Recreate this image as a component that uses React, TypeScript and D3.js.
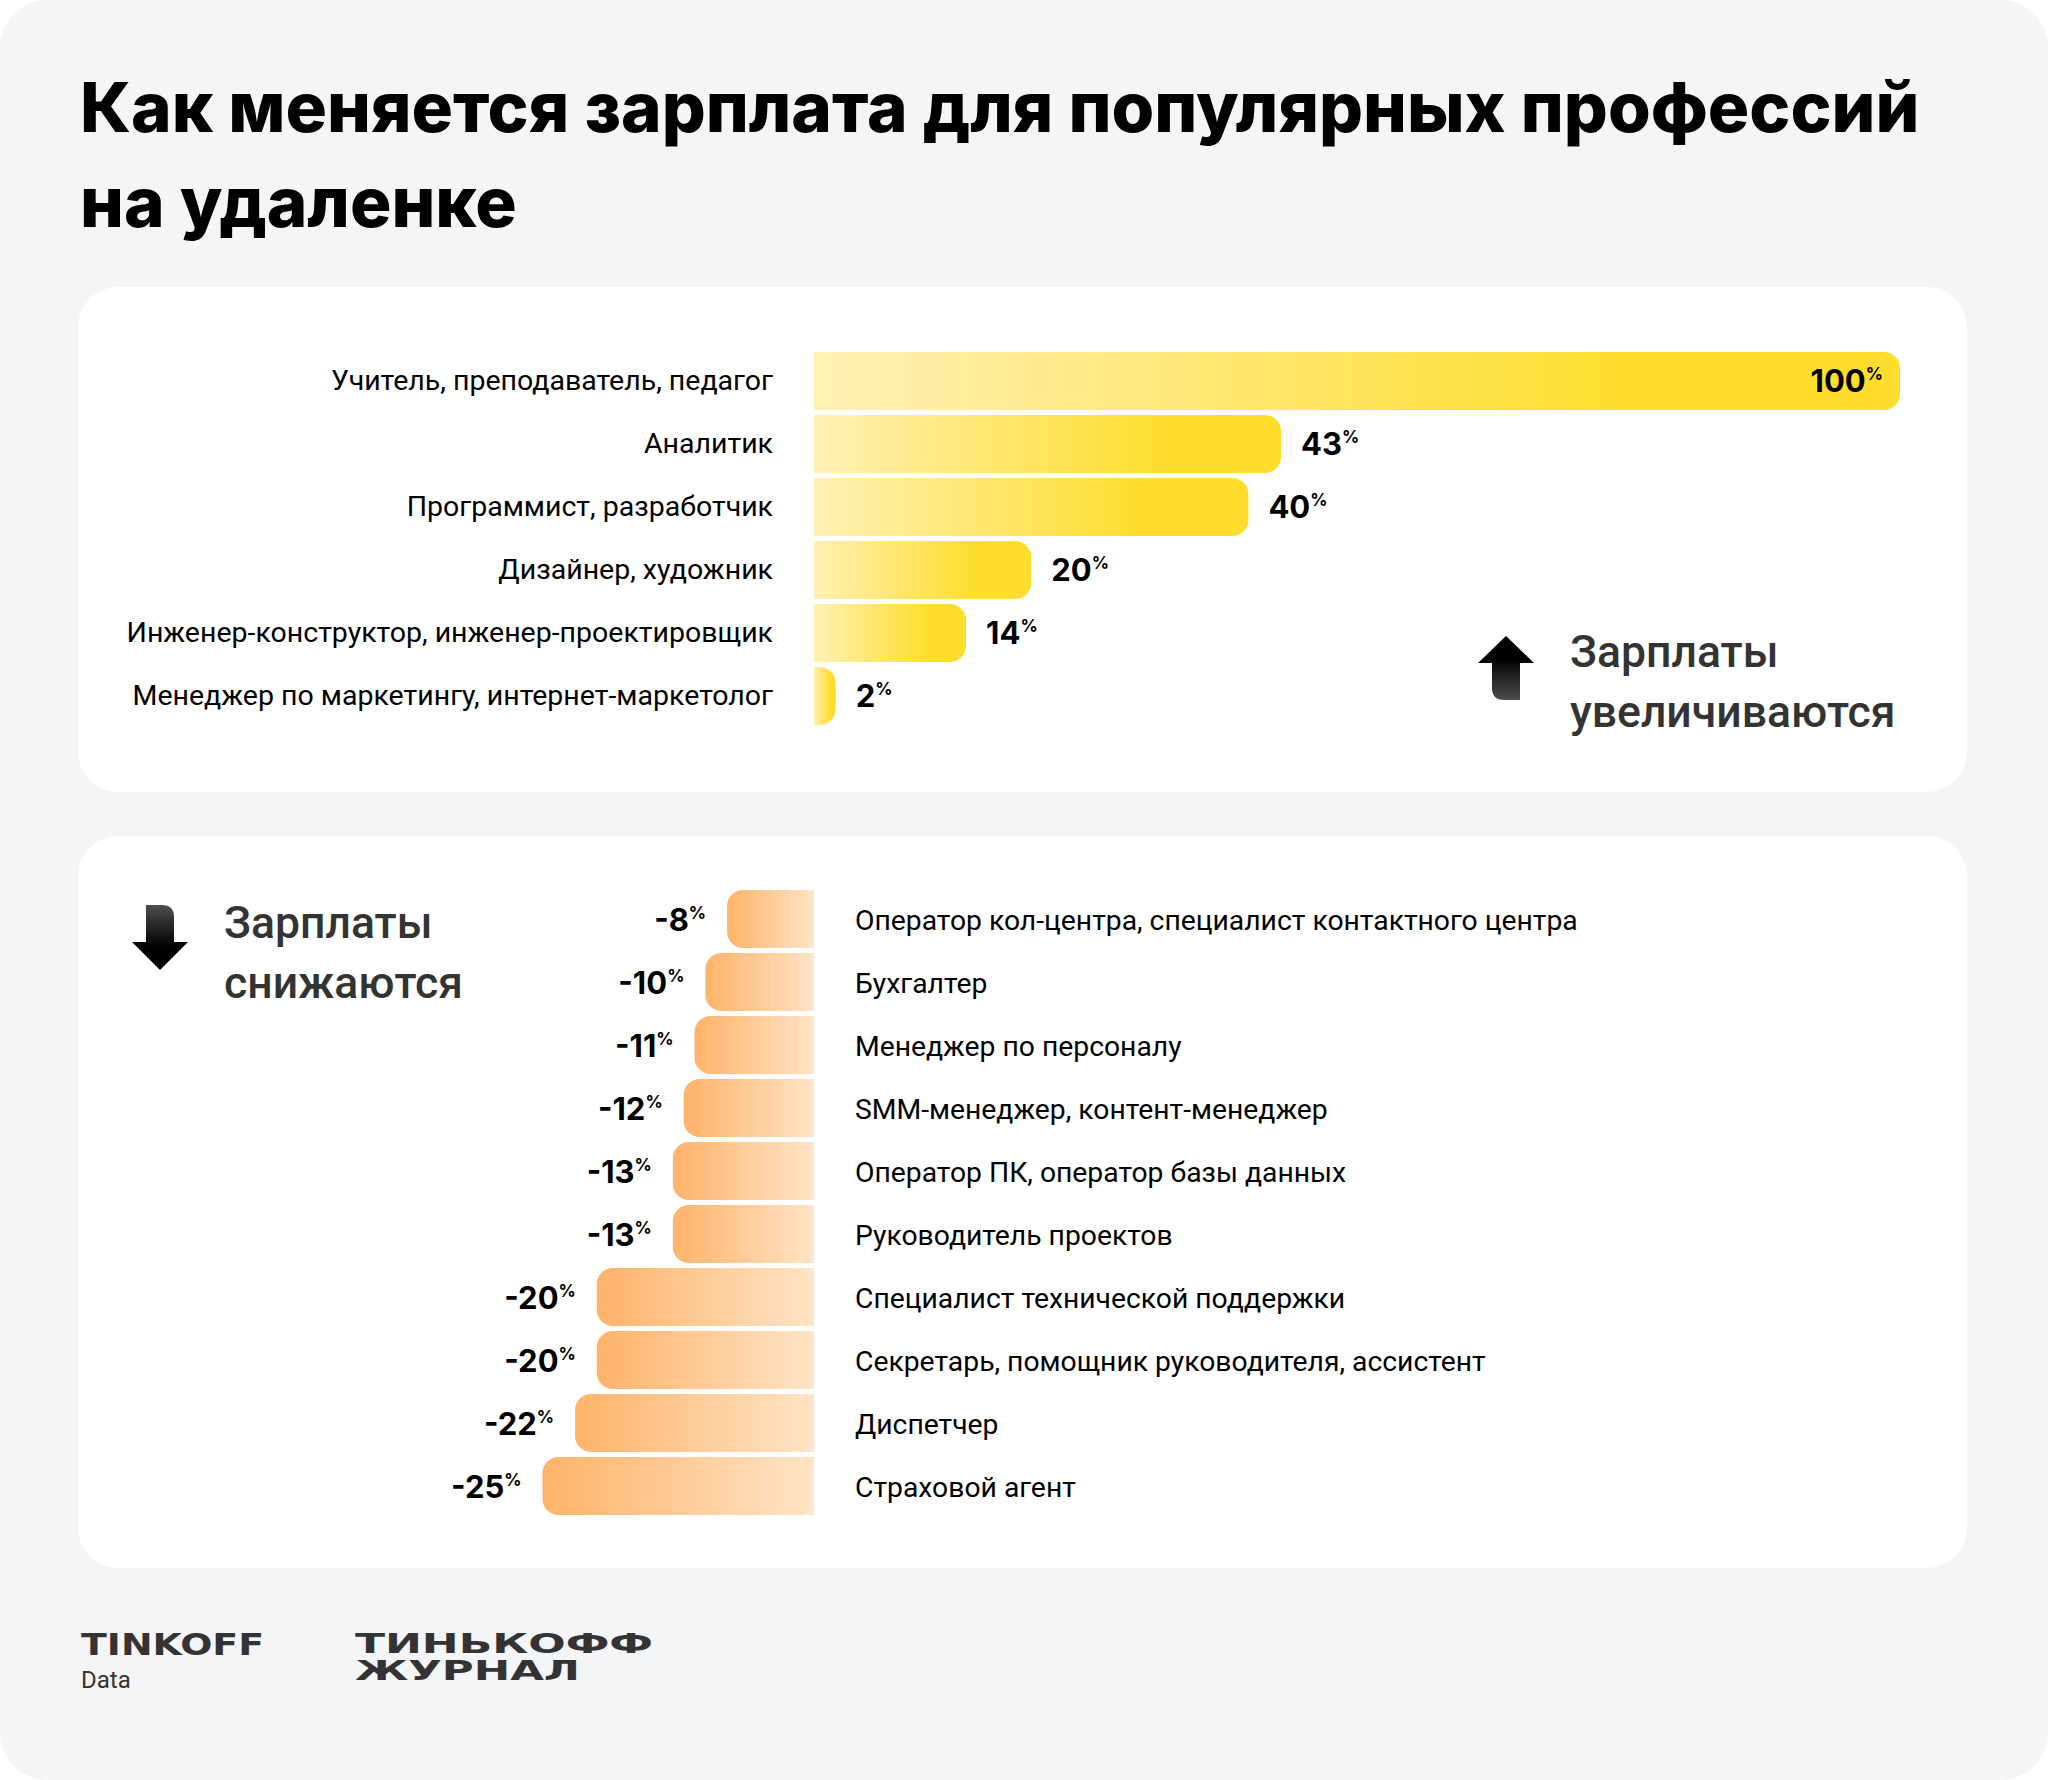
import React from "react";
import * as d3 from "d3";

const titleLines = ["Как меняется зарплата для популярных профессий", "на удаленке"];

const upCategories = [
  "Учитель, преподаватель, педагог",
  "Аналитик",
  "Программист, разработчик",
  "Дизайнер, художник",
  "Инженер-конструктор, инженер-проектировщик",
  "Менеджер по маркетингу, интернет-маркетолог",
];
const upValues = [100, 43, 40, 20, 14, 2];

const downCategories = [
  "Оператор кол-центра, специалист контактного центра",
  "Бухгалтер",
  "Менеджер по персоналу",
  "SMM-менеджер, контент-менеджер",
  "Оператор ПК, оператор базы данных",
  "Руководитель проектов",
  "Специалист технической поддержки",
  "Секретарь, помощник руководителя, ассистент",
  "Диспетчер",
  "Страховой агент",
];
const downValues = [-8, -10, -11, -12, -13, -13, -20, -20, -22, -25];

const upLegend = ["Зарплаты", "увеличиваются"];
const downLegend = ["Зарплаты", "снижаются"];

const W = 2048;
const H = 1780;
const X0 = 814;
const STEP = 63;
const GAP = 5;

const x = d3.scaleLinear().domain([0, 100]).range([0, 1086]);

const yUp = d3
  .scaleBand<string>()
  .domain(upCategories)
  .range([352, 352 + upCategories.length * STEP - GAP])
  .paddingInner(GAP / STEP)
  .paddingOuter(0);

const yDown = d3
  .scaleBand<string>()
  .domain(downCategories)
  .range([890, 890 + downCategories.length * STEP - GAP])
  .paddingInner(GAP / STEP)
  .paddingOuter(0);

function rightRounded(x0: number, x1: number, y0: number, y1: number, rr: number) {
  const r = Math.min(rr, x1 - x0, (y1 - y0) / 2);
  const p = d3.path();
  p.moveTo(x0, y0);
  p.lineTo(x1 - r, y0);
  p.arcTo(x1, y0, x1, y0 + r, r);
  p.lineTo(x1, y1 - r);
  p.arcTo(x1, y1, x1 - r, y1, r);
  p.lineTo(x0, y1);
  p.closePath();
  return p.toString();
}

function leftRounded(x0: number, x1: number, y0: number, y1: number, rr: number) {
  const r = Math.min(rr, x1 - x0, (y1 - y0) / 2);
  const p = d3.path();
  p.moveTo(x1, y0);
  p.lineTo(x0 + r, y0);
  p.arcTo(x0, y0, x0, y0 + r, r);
  p.lineTo(x0, y1 - r);
  p.arcTo(x0, y1, x0 + r, y1, r);
  p.lineTo(x1, y1);
  p.closePath();
  return p.toString();
}

const labelFont = "Roboto, 'Noto Sans', sans-serif";
const valueFont = "Inter, Roboto, sans-serif";

function ValueLabel({ x: tx, y, v, anchor }: { x: number; y: number; v: number; anchor: string }) {
  return (
    <text x={tx} y={y} textAnchor={anchor} fontFamily={valueFont} fontWeight={700} fontSize={31} fill="#000">
      <tspan>{String(v)}</tspan>
      <tspan fontSize={17} dy={-12}>%</tspan>
    </text>
  );
}

export default function App() {
  const bw = yUp.bandwidth();
  return (
    <svg
      width={W}
      height={H}
      viewBox={`0 0 ${W} ${H}`}
      style={{ position: "absolute", left: 0, top: 0, display: "block" }}
    >
      <defs>
        <linearGradient id="gYellow" x1="0" y1="0" x2="1" y2="0">
          <stop offset="0" stopColor="#fff1b5" />
          <stop offset="0.75" stopColor="#ffdd2d" />
          <stop offset="1" stopColor="#ffdd2d" />
        </linearGradient>
        <linearGradient id="gOrange" x1="0" y1="0" x2="1" y2="0">
          <stop offset="0" stopColor="#ffb369" />
          <stop offset="1" stopColor="#ffe4c6" />
        </linearGradient>
        <linearGradient id="gArrowUp" x1="0" y1="0" x2="0" y2="1">
          <stop offset="0.35" stopColor="#000" />
          <stop offset="1" stopColor="#4d4d4d" />
        </linearGradient>
        <linearGradient id="gArrowDown" x1="0" y1="0" x2="0" y2="1">
          <stop offset="0" stopColor="#4d4d4d" />
          <stop offset="0.65" stopColor="#000" />
        </linearGradient>
      </defs>
      <rect x={0} y={0} width={W} height={H} fill="#ffffff" />
      <rect x={0} y={0} width={W} height={H} rx={48} ry={48} fill="#f4f5f7" />

      {titleLines.map((t, i) => (
        <text
          key={i}
          x={80}
          y={132 + i * 95}
          fontFamily="Inter, Roboto, sans-serif"
          fontWeight={800}
          fontSize={69.1}
          fill="#000"
        >
          {t}
        </text>
      ))}

      {/* top panel */}
      <rect x={78} y={287} width={1889} height={505} rx={40} ry={40} fill="#fff" />
      {upCategories.map((c, i) => {
        const y0 = yUp(c)!;
        const w = x(upValues[i]);
        const cy = y0 + bw / 2;
        const inside = upValues[i] >= 100;
        return (
          <g key={c}>
            <text
              x={773}
              y={cy}
              dy="0.33em"
              textAnchor="end"
              fontFamily={labelFont}
              fontSize={28.5}
              fill="#000"
            >
              {c}
            </text>
            <path d={rightRounded(X0, X0 + w, y0, y0 + bw, 16)} fill="url(#gYellow)" />
            <ValueLabel
              x={inside ? X0 + w - 17 : X0 + w + 20}
              y={cy + 11}
              v={upValues[i]}
              anchor={inside ? "end" : "start"}
            />
          </g>
        );
      })}
      {/* up arrow */}
      <path
        d="M1506,636 L1534,663 L1520,663 L1520,700 L1504,700 Q1492,700 1492,688 L1492,663 L1478,663 Z"
        fill="url(#gArrowUp)"
      />
      {upLegend.map((t, i) => (
        <text
          key={i}
          x={1570}
          y={667 + i * 60}
          fontFamily={labelFont}
          fontWeight={500}
          fontSize={44.5}
          fill="#333"
        >
          {t}
        </text>
      ))}

      {/* bottom panel */}
      <rect x={78} y={836} width={1889} height={732} rx={40} ry={40} fill="#fff" />
      {downCategories.map((c, i) => {
        const y0 = yDown(c)!;
        const w = x(Math.abs(downValues[i]));
        const cy = y0 + yDown.bandwidth() / 2;
        return (
          <g key={c + i}>
            <path d={leftRounded(X0 - w, X0, y0, y0 + yDown.bandwidth(), 16)} fill="url(#gOrange)" />
            <text x={855} y={cy} dy="0.38em" fontFamily={labelFont} fontSize={28.3} fill="#000">
              {c}
            </text>
            <ValueLabel x={X0 - w - 21} y={cy + 12} v={downValues[i]} anchor="end" />
          </g>
        );
      })}
      {/* down arrow */}
      <path
        d="M160,970 L188,942 L174,942 L174,917 Q174,905 162,905 L146,905 L146,942 L132,942 Z"
        fill="url(#gArrowDown)"
      />
      {downLegend.map((t, i) => (
        <text
          key={i}
          x={224}
          y={938 + i * 60}
          fontFamily={labelFont}
          fontWeight={500}
          fontSize={44.5}
          fill="#333"
        >
          {t}
        </text>
      ))}

      {/* footer logos */}
      <text
        x={81}
        y={1655}
        fontFamily="'DejaVu Sans', sans-serif"
        fontWeight={700}
        fontSize={31}
        fill="#333"
        textLength={183}
        lengthAdjust="spacingAndGlyphs"
      >
        TINKOFF
      </text>
      <text x={81} y={1688} fontFamily={labelFont} fontSize={24} fill="#333">
        Data
      </text>
      <text
        x={355}
        y={1653}
        fontFamily="'DejaVu Sans', sans-serif"
        fontWeight={700}
        fontSize={27}
        fill="#333"
        textLength={298}
        lengthAdjust="spacingAndGlyphs"
      >
        ТИНЬКОФФ
      </text>
      <text
        x={355}
        y={1680}
        fontFamily="'DejaVu Sans', sans-serif"
        fontWeight={700}
        fontSize={27}
        fill="#333"
        textLength={225}
        lengthAdjust="spacingAndGlyphs"
      >
        ЖУРНАЛ
      </text>
    </svg>
  );
}
